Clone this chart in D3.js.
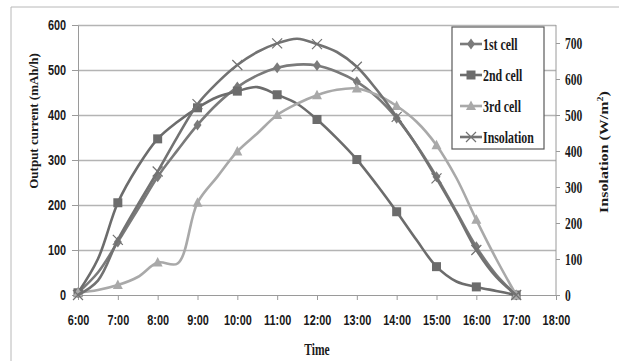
<!DOCTYPE html>
<html>
<head>
<meta charset="utf-8">
<script src="https://cdn.jsdelivr.net/npm/d3@7"></script>
<style>
  body { margin: 0; background: #fff; }
  svg { display: block; }
  .tick line { stroke: #9a9a9a; }
  .domain { stroke: #9a9a9a; }
  .grid line { stroke: #b4b4b4; stroke-width: 1.3px; }
  .grid .domain { display: none; }
  .series { fill: none; stroke-width: 2.6px; }
</style>
</head>
<body>
<svg id="chart" width="619" height="361"></svg>
<script>
// half-hourly readings, 6:00 .. 17:00 (markers only on the hour)
const times = [6, 6.5, 7, 7.5, 8, 8.5, 9, 9.5, 10, 10.5, 11, 11.5, 12, 12.5, 13, 13.5, 14, 14.5, 15, 15.5, 16, 16.5, 17];
const cell1 = [5, 50, 118, 190, 263, 322, 378, 425, 462, 488, 505, 512, 510, 496, 474, 440, 393, 333, 263, 185, 107, 45, 0];
const cell2 = [5, 80, 205, 285, 347, 385, 416, 440, 453, 462, 445, 425, 390, 348, 301, 245, 185, 122, 63, 30, 18, 9, 0];
const cell3 = [5, 11, 22, 40, 72, 70, 205, 263, 319, 359, 400, 425, 444, 456, 459, 445, 420, 385, 333, 260, 167, 80, 0];
const insolation = [0, 40, 153, 250, 343, 440, 530, 590, 639, 675, 699, 712, 697, 675, 634, 570, 495, 415, 324, 228, 125, 50, 0];

const hourTicks = d3.range(6, 19);
const leftTicks = [0, 100, 200, 300, 400, 500, 600];
const rightTicks = [0, 100, 200, 300, 400, 500, 600, 700];
const seriesNames = ["1st cell", "2nd cell", "3rd cell", "Insolation"];

const svg = d3.select("#chart");
const plotL = 78, plotR = 556, plotT = 25, plotB = 295;

// outer frame
svg.append("path").attr("d", "M11,361V7H619").attr("fill", "none").attr("stroke", "#b8b8b8").attr("stroke-width", 1);

const x = d3.scaleLinear().domain([6, 18]).range([plotL, plotR]);
const yL = d3.scaleLinear().domain([0, 600]).range([plotB, plotT]);
const yR = d3.scaleLinear().domain([0, 750]).range([plotB, plotT]);

// gridlines
svg.append("g").attr("class", "grid").attr("transform", `translate(${plotL},0)`)
    .call(d3.axisLeft(yL).tickValues(leftTicks.slice(1)).tickSize(-(plotR - plotL)).tickFormat(""));

const sansFont = "'Liberation Sans', Arial, sans-serif";
const serifFont = "'Liberation Serif', 'Times New Roman', serif";

// left axis
let ya = svg.append("g").attr("transform", `translate(${plotL},0)`)
    .call(d3.axisLeft(yL).tickValues(leftTicks).tickSize(6).tickSizeOuter(0));
ya.selectAll("text").attr("font-family", sansFont).attr("font-weight", "bold").attr("font-size", "14.5px")
    .attr("fill", "#1a1a1a").attr("x", -12 / 0.75).attr("transform", "scale(0.75,1)");

// right axis
let yra = svg.append("g").attr("transform", `translate(${plotR},0)`)
    .call(d3.axisRight(yR).tickValues(rightTicks).tickSize(4).tickSizeOuter(0));
yra.select(".domain").attr("d", `M0,${plotT}V${plotB}`);
yra.selectAll("text").attr("font-family", serifFont).attr("font-weight", "bold").attr("font-size", "17px")
    .attr("fill", "#1a1a1a").attr("x", 9 / 0.68).attr("dy", "0.34em").attr("transform", "scale(0.68,1)");

// x axis
let xa = svg.append("g").attr("transform", `translate(0,${plotB})`)
    .call(d3.axisBottom(x).tickValues(hourTicks).tickSize(5).tickSizeOuter(0).tickFormat(d => d + ":00"));
xa.selectAll("text").attr("font-family", sansFont).attr("font-weight", "bold").attr("font-size", "14.5px")
    .attr("fill", "#1a1a1a").attr("y", 30).attr("dy", 0).attr("transform", "scale(0.75,1)");

// axis titles
svg.append("text").attr("transform", "translate(38,121) rotate(-90)")
    .attr("text-anchor", "middle").attr("font-family", serifFont).attr("font-weight", "bold")
    .attr("font-size", "13px").attr("fill", "#1a1a1a").text("Output current (mAh/h)");
let rt = svg.append("text").attr("transform", "translate(608,152) scale(0.8,1) rotate(-90)")
    .attr("text-anchor", "middle").attr("font-family", serifFont).attr("font-weight", "bold")
    .attr("font-size", "16px").attr("fill", "#1a1a1a");
rt.append("tspan").text("Insolation (W/m");
rt.append("tspan").attr("font-size", "10px").attr("dy", "-6").text("2");
rt.append("tspan").attr("dy", "6").text(")");
svg.append("text").attr("transform", "translate(317,355) scale(0.68,1)")
    .attr("text-anchor", "middle").attr("font-family", serifFont).attr("font-weight", "bold")
    .attr("font-size", "17px").attr("fill", "#1a1a1a").text("Time");

// marker shapes
const shapes = {
    diamond: "M0,-5.5L4,0L0,5.5L-4,0Z",
    square: "M-4.5,-4.5H4.5V4.5H-4.5Z",
    triangle: "M0,-5.5L5,4L-5,4Z",
    cross: "M-5,-5L5,5M-5,5L5,-5"
};

const series = [
    {name: seriesNames[0], vals: cell1, y: yL, color: "#7a7a7a", shape: "diamond"},
    {name: seriesNames[1], vals: cell2, y: yL, color: "#6c6c6c", shape: "square"},
    {name: seriesNames[2], vals: cell3, y: yL, color: "#a9a9a9", shape: "triangle"},
    {name: seriesNames[3], vals: insolation, y: yR, color: "#727272", shape: "cross"}
];

series.forEach(s => {
    let pts = times.map((t, i) => ({t: t, v: s.vals[i]}));
    let line = d3.line().x(d => x(d.t)).y(d => s.y(d.v)).curve(d3.curveCatmullRom.alpha(0.5));
    svg.append("path").attr("class", "series").attr("stroke", s.color).attr("d", line(pts));
    let marks = svg.append("g").selectAll("path").data(pts.filter(d => d.t % 1 === 0)).join("path")
        .attr("transform", d => `translate(${x(d.t)},${s.y(d.v)})`)
        .attr("d", shapes[s.shape]);
    if (s.shape === "cross")
        marks.attr("fill", "none").attr("stroke", s.color).attr("stroke-width", 1.2);
    else
        marks.attr("fill", s.color);
});

// legend
let lg = svg.append("g").attr("transform", "translate(452,27)");
lg.append("rect").attr("width", 92).attr("height", 122).attr("fill", "#fff")
    .attr("stroke", "#5a5a5a").attr("stroke-width", 1.2);
series.forEach((s, i) => {
    let yy = 17 + i * 31;
    lg.append("line").attr("x1", 8).attr("x2", 30).attr("y1", yy).attr("y2", yy)
        .attr("stroke", s.color).attr("stroke-width", 2.6);
    let m = lg.append("path").attr("transform", `translate(19,${yy})`).attr("d", shapes[s.shape]);
    if (s.shape === "cross")
        m.attr("fill", "none").attr("stroke", s.color).attr("stroke-width", 1.2);
    else
        m.attr("fill", s.color);
    lg.append("text").attr("transform", `translate(31,${yy + 6}) scale(0.7,1)`)
        .attr("font-family", serifFont).attr("font-weight", "bold").attr("font-size", "17px")
        .attr("fill", "#1a1a1a").text(s.name);
});
</script>
</body>
</html>
